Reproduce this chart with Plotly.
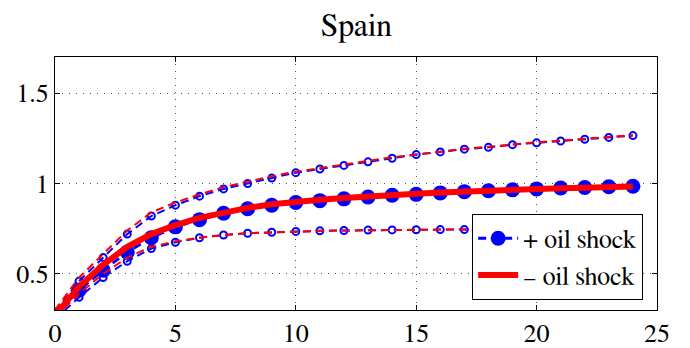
import plotly.graph_objects as go

horizon = list(range(25))

pos_mid = [0.27, 0.41, 0.52, 0.62, 0.70, 0.76, 0.80, 0.835, 0.86, 0.88, 0.895, 0.905, 0.915, 0.925,
           0.935, 0.94, 0.948, 0.955, 0.96, 0.965, 0.97, 0.975, 0.978, 0.982, 0.985]
pos_up = [0.29, 0.46, 0.59, 0.72, 0.82, 0.88, 0.93, 0.97, 1.00, 1.03, 1.06, 1.08, 1.10, 1.12,
          1.14, 1.16, 1.175, 1.19, 1.20, 1.215, 1.225, 1.235, 1.245, 1.255, 1.265]
pos_lo = [0.25, 0.37, 0.48, 0.57, 0.64, 0.675, 0.70, 0.715, 0.725, 0.73, 0.735, 0.738, 0.74, 0.742,
          0.743, 0.744, 0.745, 0.745, 0.745, 0.745, 0.745, 0.745, 0.745, 0.745, 0.745]

neg_mid = [0.27, 0.43, 0.55, 0.65, 0.72, 0.77, 0.81, 0.84, 0.865, 0.885, 0.90, 0.91, 0.92, 0.93,
           0.937, 0.943, 0.95, 0.956, 0.961, 0.966, 0.97, 0.974, 0.977, 0.98, 0.983]
neg_up = [0.30, 0.48, 0.61, 0.74, 0.84, 0.895, 0.94, 0.98, 1.01, 1.04, 1.065, 1.085, 1.105, 1.125,
          1.145, 1.16, 1.178, 1.192, 1.203, 1.217, 1.228, 1.238, 1.247, 1.257, 1.267]
neg_lo = [0.26, 0.39, 0.50, 0.59, 0.65, 0.68, 0.70, 0.715, 0.725, 0.73, 0.735, 0.738, 0.74, 0.742,
          0.743, 0.744, 0.745, 0.745, 0.745, 0.745, 0.745, 0.745, 0.745, 0.745, 0.745]

TITLE = "Spain"
BLUE = "#0000ff"
RED = "#ff0000"
DASH = "8px,5px"
FONT = "FreeSerif"

fig = go.Figure()

for band in (pos_up, pos_lo):
    fig.add_trace(go.Scatter(
        x=horizon, y=band, mode="lines+markers", showlegend=False,
        line=dict(color=BLUE, width=2, dash=DASH),
        marker=dict(symbol="circle-open", size=7, color=BLUE, line=dict(width=2, color=BLUE))))

fig.add_trace(go.Scatter(
    x=horizon, y=pos_mid, mode="lines+markers", name="+ oil shock",
    line=dict(color=BLUE, width=3, dash=DASH),
    marker=dict(symbol="circle", size=15, color=BLUE)))

for band in (neg_up, neg_lo):
    fig.add_trace(go.Scatter(
        x=horizon, y=band, mode="lines", showlegend=False,
        line=dict(color=RED, width=2, dash=DASH)))

fig.add_trace(go.Scatter(
    x=horizon, y=neg_mid, mode="lines", name="\u2013 oil shock",
    line=dict(color=RED, width=6)))

axis_style = dict(
    showline=True, linecolor="black", linewidth=1, mirror="ticks",
    ticks="inside", ticklen=5, tickcolor="black",
    showgrid=True, gridcolor="#555555", griddash="1px,6px", gridwidth=1,
    zeroline=False, tickfont_family=FONT, tickfont_size=26, tickfont_color="black",
)
fig.update_xaxes(range=[0, 25], tickvals=[0, 5, 10, 15, 20, 25], **axis_style)
fig.update_yaxes(range=[0.3, 1.7], tickvals=[0.5, 1, 1.5], ticktext=["0.5", "1", "1.5"], **axis_style)

fig.add_annotation(text=TITLE, xref="paper", yref="paper", x=0.5, y=1.0, yshift=12,
                   xanchor="center", yanchor="bottom", showarrow=False,
                   font=dict(family=FONT, size=32, color="black"))

fig.update_layout(
    template="none",
    width=690, height=348,
    margin=dict(l=55, r=33, t=57, b=38),
    paper_bgcolor="white", plot_bgcolor="white",
    legend=dict(x=0.977, xanchor="right", y=0.04, yanchor="bottom",
                bgcolor="white", bordercolor="black", borderwidth=1,
                font=dict(family=FONT, size=26, color="black"),
                tracegroupgap=0, itemwidth=40),
)

fig.write_html("out.html")
